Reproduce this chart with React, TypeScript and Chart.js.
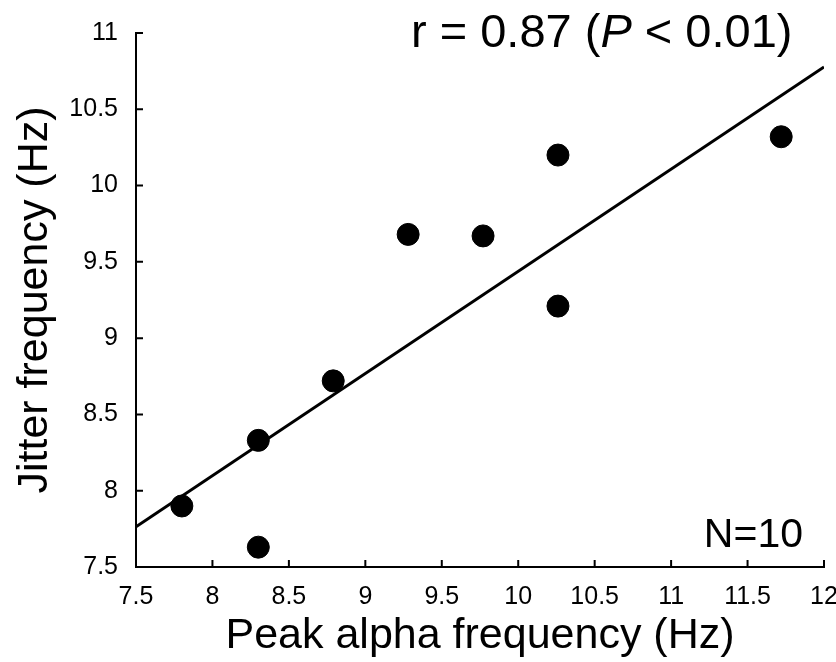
import React, { useEffect, useRef } from "react";
import { Chart, registerables } from "chart.js";

Chart.register(...registerables);

const peakAlpha = [7.8, 8.3, 8.3, 8.79, 9.28, 9.77, 10.26, 10.26, 11.72];
const jitter = [7.9, 8.33, 7.63, 8.72, 9.68, 9.67, 10.2, 9.21, 10.32];
const fitX = [7.5, 12];
const fitY = [7.764, 10.777];
const xTickLabels = ["7.5", "8", "8.5", "9", "9.5", "10", "10.5", "11", "11.5", "12"];
const yTickLabels = ["7.5", "8", "8.5", "9", "9.5", "10", "10.5", "11"];
const FONT = "'Liberation Sans', Arial, sans-serif";

const inwardTicks = {
  id: "inwardTicks",
  afterDraw(chart: any) {
    const ctx = chart.ctx;
    const xs = chart.scales.x;
    const ys = chart.scales.y;
    const { left, bottom } = chart.chartArea;
    ctx.save();
    ctx.strokeStyle = "#000";
    ctx.lineWidth = 2;
    ctx.beginPath();
    xs.ticks.forEach((t: any) => {
      const px = xs.getPixelForValue(t.value);
      ctx.moveTo(px, bottom);
      ctx.lineTo(px, bottom - 7);
    });
    ys.ticks.forEach((t: any) => {
      const py = ys.getPixelForValue(t.value);
      ctx.moveTo(left, py);
      ctx.lineTo(left + 7, py);
    });
    ctx.stroke();

    ctx.fillStyle = "#000";
    ctx.textBaseline = "alphabetic";
    ctx.textAlign = "left";
    let x = 411;
    const yb = 47;
    const parts: [string, string][] = [
      ["r = 0.87 (", `47px ${FONT}`],
      ["P", `italic 47px ${FONT}`],
      [" < 0.01)", `47px ${FONT}`],
    ];
    parts.forEach(([s, f]) => {
      ctx.font = f;
      ctx.fillText(s, x, yb);
      x += ctx.measureText(s).width;
    });

    ctx.font = `41px ${FONT}`;
    ctx.textAlign = "right";
    ctx.fillText("N=10", 803, 547);
    ctx.restore();
  },
};

export default function App() {
  const ref = useRef<HTMLCanvasElement | null>(null);
  useEffect(() => {
    if (!ref.current) return;
    const chart = new Chart(ref.current, {
      type: "scatter",
      data: {
        datasets: [
          {
            type: "line",
            data: fitX.map((x, i) => ({ x, y: fitY[i] })),
            borderColor: "#000",
            borderWidth: 3,
            pointRadius: 0,
            fill: false,
          } as any,
          {
            data: peakAlpha.map((x, i) => ({ x, y: jitter[i] })),
            backgroundColor: "#000",
            borderColor: "#000",
            pointRadius: 11,
            pointHoverRadius: 11,
          },
        ],
      },
      options: {
        animation: false,
        responsive: false,
        maintainAspectRatio: false,
        layout: { padding: { left: 0, top: 33, right: 12, bottom: 0 } },
        plugins: { legend: { display: false }, tooltip: { enabled: false } },
        scales: {
          x: {
            type: "linear",
            min: 7.5,
            max: 12,
            grid: { display: false, drawTicks: false },
            border: { display: true, color: "#000", width: 2 },
            ticks: {
              stepSize: 0.5,
              padding: 15,
              color: "#000",
              font: { family: FONT, size: 25 },
              maxRotation: 0,
              autoSkip: false,
              callback: (_v: any, i: number) => xTickLabels[i],
            },
            title: {
              display: true,
              text: "Peak alpha frequency (Hz)",
              color: "#000",
              font: { family: FONT, size: 43 },
              padding: { top: 0, bottom: 0 },
            },
            afterFit: (s: any) => {
              s.height = 95;
              s.paddingLeft = 0;
              s.paddingRight = 0;
            },
          },
          y: {
            type: "linear",
            min: 7.5,
            max: 11,
            grid: { display: false, drawTicks: false },
            border: { display: true, color: "#000", width: 2 },
            ticks: {
              stepSize: 0.5,
              padding: 18,
              color: "#000",
              font: { family: FONT, size: 25 },
              autoSkip: false,
              callback: (_v: any, i: number) => yTickLabels[i],
            },
            title: {
              display: true,
              text: "Jitter frequency (Hz)",
              color: "#000",
              font: { family: FONT, size: 43 },
              padding: { top: 9, bottom: 0 },
            },
            afterFit: (s: any) => {
              s.width = 136;
              s.paddingTop = 0;
              s.paddingBottom = 0;
            },
          },
        },
      },
      plugins: [inwardTicks],
    });
    return () => chart.destroy();
  }, []);
  return (
    <div style={{ position: "fixed", left: 0, top: 0, width: 836, height: 662, background: "#fff" }}>
      <canvas ref={ref} width={836} height={662} style={{ width: 836, height: 662 }} />
    </div>
  );
}
